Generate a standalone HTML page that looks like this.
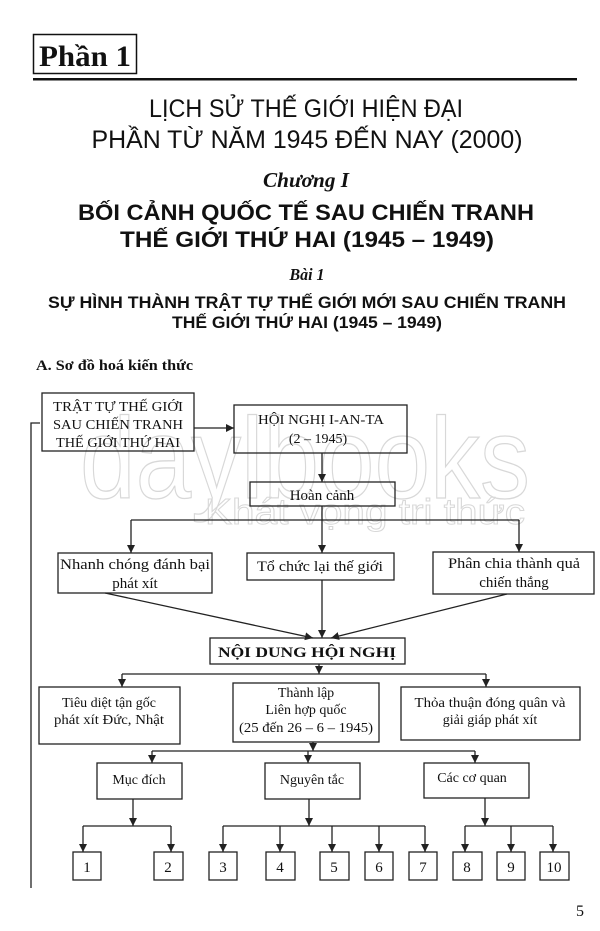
<!DOCTYPE html>
<html><head><meta charset="utf-8"><style>
html,body{margin:0;padding:0;background:#fff;}
svg{display:block;}
.s{font-family:"Liberation Serif",serif;fill:#111;}
.a{font-family:"Liberation Sans",sans-serif;fill:#111;}
</style></head><body>
<svg width="600" height="931" viewBox="0 0 600 931" xmlns="http://www.w3.org/2000/svg">
<defs>
<marker id="ar" markerWidth="8" markerHeight="8" refX="8" refY="4" orient="auto" markerUnits="userSpaceOnUse" viewBox="0 0 8 8"><path d="M0,0 L8,4 L0,8 Z" fill="#222"/></marker>
</defs>
<!-- header -->
<rect x="33.5" y="34.5" width="103" height="39" fill="none" stroke="#111" stroke-width="1.5"/>
<text x="39" y="66" class="s" font-size="30" font-weight="bold" textLength="92" lengthAdjust="spacingAndGlyphs">Phần 1</text>
<rect x="33" y="78" width="544" height="2.5" fill="#111"/>
<g lengthAdjust="spacingAndGlyphs">
<text x="306" y="117" class="a" font-size="25" text-anchor="middle" textLength="314" lengthAdjust="spacingAndGlyphs">LỊCH SỬ THẾ GIỚI HIỆN ĐẠI</text>
<text x="307" y="148" class="a" font-size="25" text-anchor="middle" textLength="431" lengthAdjust="spacingAndGlyphs">PHẦN TỪ NĂM 1945 ĐẾN NAY (2000)</text>
<text x="306" y="187" class="s" font-size="21" font-style="italic" font-weight="bold" text-anchor="middle" textLength="86" lengthAdjust="spacingAndGlyphs">Chương I</text>
<text x="306" y="220" class="a" font-size="22" font-weight="900" text-anchor="middle" textLength="456" lengthAdjust="spacingAndGlyphs">BỐI CẢNH QUỐC TẾ SAU CHIẾN TRANH</text>
<text x="307" y="247" class="a" font-size="22" font-weight="900" text-anchor="middle" textLength="374" lengthAdjust="spacingAndGlyphs">THẾ GIỚI THỨ HAI (1945 – 1949)</text>
<text x="307" y="280" class="s" font-size="17" font-style="italic" font-weight="bold" text-anchor="middle" textLength="35" lengthAdjust="spacingAndGlyphs">Bài 1</text>
<text x="307" y="308" class="a" font-size="17" font-weight="bold" text-anchor="middle" textLength="518" lengthAdjust="spacingAndGlyphs">SỰ HÌNH THÀNH TRẬT TỰ THẾ GIỚI MỚI SAU CHIẾN TRANH</text>
<text x="307" y="328" class="a" font-size="17" font-weight="bold" text-anchor="middle" textLength="270" lengthAdjust="spacingAndGlyphs">THẾ GIỚI THỨ HAI (1945 – 1949)</text>
<text x="36" y="370" class="s" font-size="15" font-weight="bold" textLength="157" lengthAdjust="spacingAndGlyphs">A. Sơ đồ hoá kiến thức</text>
</g>
<!-- watermark -->
<text x="80" y="498" font-family="Liberation Sans,sans-serif" font-size="115" fill="none" stroke="#d8d8d8" stroke-width="1.3" textLength="450" lengthAdjust="spacingAndGlyphs">daylbooks</text>
<text x="205" y="524" font-family="Liberation Sans,sans-serif" font-size="36" fill="none" stroke="#d8d8d8" stroke-width="1" textLength="320" lengthAdjust="spacingAndGlyphs">Khát vọng tri thức</text>
<g stroke="#222" stroke-width="1.3" fill="none">
<polyline points="40,423 31,423 31,888"/>
<rect x="42" y="393" width="152" height="58"/>
<rect x="234" y="405" width="173" height="48"/>
<rect x="250" y="482" width="145" height="24"/>
<rect x="58" y="553" width="154" height="40"/>
<rect x="247" y="553" width="147" height="27"/>
<rect x="433" y="552" width="161" height="42"/>
<rect x="210" y="638" width="195" height="26"/>
<rect x="39" y="687" width="141" height="57"/>
<rect x="233" y="683" width="146" height="59"/>
<rect x="401" y="687" width="179" height="53"/>
<rect x="97" y="763" width="85" height="36"/>
<rect x="265" y="763" width="95" height="36"/>
<rect x="424" y="763" width="105" height="35"/>
<rect x="73" y="852" width="28" height="28"/>
<rect x="154" y="852" width="29" height="28"/>
<rect x="209" y="852" width="28" height="28"/>
<rect x="266" y="852" width="29" height="28"/>
<rect x="320" y="852" width="29" height="28"/>
<rect x="365" y="852" width="28" height="28"/>
<rect x="409" y="852" width="28" height="28"/>
<rect x="453" y="852" width="29" height="28"/>
<rect x="497" y="852" width="28" height="28"/>
<rect x="540" y="852" width="29" height="28"/>
<line x1="194" y1="428" x2="234" y2="428" marker-end="url(#ar)"/>
<line x1="322" y1="453" x2="322" y2="482" marker-end="url(#ar)"/>
<line x1="322" y1="506" x2="322" y2="520"/>
<line x1="131" y1="520" x2="519" y2="520"/>
<line x1="131" y1="520" x2="131" y2="553" marker-end="url(#ar)"/>
<line x1="322" y1="520" x2="322" y2="553" marker-end="url(#ar)"/>
<line x1="519" y1="520" x2="519" y2="552" marker-end="url(#ar)"/>
<line x1="105" y1="593" x2="313" y2="638" marker-end="url(#ar)"/>
<line x1="322" y1="580" x2="322" y2="638" marker-end="url(#ar)"/>
<line x1="507" y1="594" x2="331" y2="638" marker-end="url(#ar)"/>
<line x1="319" y1="664" x2="319" y2="674" marker-end="url(#ar)"/>
<line x1="122" y1="674" x2="486" y2="674"/>
<line x1="122" y1="674" x2="122" y2="687" marker-end="url(#ar)"/>
<line x1="486" y1="674" x2="486" y2="687" marker-end="url(#ar)"/>
<line x1="313" y1="742" x2="313" y2="751" marker-end="url(#ar)"/>
<line x1="152" y1="751" x2="475" y2="751"/>
<line x1="152" y1="751" x2="152" y2="763" marker-end="url(#ar)"/>
<line x1="308" y1="751" x2="308" y2="763" marker-end="url(#ar)"/>
<line x1="475" y1="751" x2="475" y2="763" marker-end="url(#ar)"/>
<line x1="133" y1="799" x2="133" y2="826" marker-end="url(#ar)"/>
<line x1="83" y1="826" x2="171" y2="826"/>
<line x1="83" y1="826" x2="83" y2="852" marker-end="url(#ar)"/>
<line x1="171" y1="826" x2="171" y2="852" marker-end="url(#ar)"/>
<line x1="309" y1="799" x2="309" y2="826" marker-end="url(#ar)"/>
<line x1="223" y1="826" x2="425" y2="826"/>
<line x1="223" y1="826" x2="223" y2="852" marker-end="url(#ar)"/>
<line x1="280" y1="826" x2="280" y2="852" marker-end="url(#ar)"/>
<line x1="332" y1="826" x2="332" y2="852" marker-end="url(#ar)"/>
<line x1="379" y1="826" x2="379" y2="852" marker-end="url(#ar)"/>
<line x1="425" y1="826" x2="425" y2="852" marker-end="url(#ar)"/>
<line x1="485" y1="798" x2="485" y2="826" marker-end="url(#ar)"/>
<line x1="465" y1="826" x2="553" y2="826"/>
<line x1="465" y1="826" x2="465" y2="852" marker-end="url(#ar)"/>
<line x1="511" y1="826" x2="511" y2="852" marker-end="url(#ar)"/>
<line x1="553" y1="826" x2="553" y2="852" marker-end="url(#ar)"/>
</g>
<g text-anchor="middle">
<text x="118" y="411" class="s" font-size="14" textLength="130" lengthAdjust="spacingAndGlyphs">TRẬT TỰ THẾ GIỚI</text>
<text x="118" y="429" class="s" font-size="14" textLength="130" lengthAdjust="spacingAndGlyphs">SAU CHIẾN TRANH</text>
<text x="118" y="447" class="s" font-size="14" textLength="124" lengthAdjust="spacingAndGlyphs">THẾ GIỚI THỨ HAI</text>
<text x="321" y="424" class="s" font-size="14" textLength="126" lengthAdjust="spacingAndGlyphs">HỘI NGHỊ I-AN-TA</text>
<text x="318" y="443" class="s" font-size="14">(2 – 1945)</text>
<text x="322" y="500" class="s" font-size="15">Hoàn cảnh</text>
<text x="135" y="569" class="s" font-size="15" textLength="150" lengthAdjust="spacingAndGlyphs">Nhanh chóng đánh bại</text>
<text x="135" y="588" class="s" font-size="15">phát xít</text>
<text x="320" y="571" class="s" font-size="15" textLength="126" lengthAdjust="spacingAndGlyphs">Tổ chức lại thế giới</text>
<text x="514" y="568" class="s" font-size="15" textLength="132" lengthAdjust="spacingAndGlyphs">Phân chia thành quả</text>
<text x="514" y="587" class="s" font-size="15">chiến thắng</text>
<text x="307" y="657" class="s" font-size="15" font-weight="bold" textLength="178" lengthAdjust="spacingAndGlyphs">NỘI DUNG HỘI NGHỊ</text>
<text x="109" y="707" class="s" font-size="14">Tiêu diệt tận gốc</text>
<text x="109" y="724" class="s" font-size="14" textLength="110" lengthAdjust="spacingAndGlyphs">phát xít Đức, Nhật</text>
<text x="306" y="697" class="s" font-size="14">Thành lập</text>
<text x="306" y="714" class="s" font-size="14">Liên hợp quốc</text>
<text x="306" y="732" class="s" font-size="14" textLength="134" lengthAdjust="spacingAndGlyphs">(25 đến 26 – 6 – 1945)</text>
<text x="490" y="707" class="s" font-size="14" textLength="151" lengthAdjust="spacingAndGlyphs">Thỏa thuận đóng quân và</text>
<text x="490" y="724" class="s" font-size="14">giải giáp phát xít</text>
<text x="139" y="784" class="s" font-size="14">Mục đích</text>
<text x="312" y="784" class="s" font-size="14">Nguyên tắc</text>
<text x="472" y="782" class="s" font-size="14">Các cơ quan</text>
<text x="87" y="872" class="s" font-size="15">1</text>
<text x="168" y="872" class="s" font-size="15">2</text>
<text x="223" y="872" class="s" font-size="15">3</text>
<text x="280" y="872" class="s" font-size="15">4</text>
<text x="334" y="872" class="s" font-size="15">5</text>
<text x="379" y="872" class="s" font-size="15">6</text>
<text x="423" y="872" class="s" font-size="15">7</text>
<text x="467" y="872" class="s" font-size="15">8</text>
<text x="511" y="872" class="s" font-size="15">9</text>
<text x="554" y="872" class="s" font-size="15">10</text>
<text x="580" y="916" class="s" font-size="16">5</text>
</g>
</svg>
</body></html>
